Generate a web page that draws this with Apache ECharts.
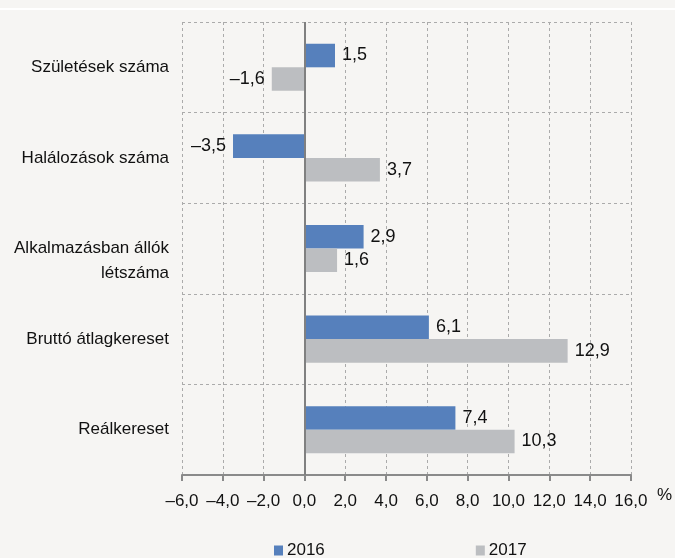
<!DOCTYPE html>
<html>
<head>
<meta charset="utf-8">
<script src="https://cdn.jsdelivr.net/npm/echarts@6/dist/echarts.min.js"></script>
<style>
  html, body { margin: 0; padding: 0; background: #f6f5f3; }
  #main { width: 675px; height: 558px; }
</style>
</head>
<body>
<div id="main"></div>
<script>
var categories = ['Születések száma', 'Halálozások száma', 'Alkalmazásban állók\nlétszáma', 'Bruttó átlagkereset', 'Reálkereset'];
var values2016 = [1.5, -3.5, 2.9, 6.1, 7.4];
var values2017 = [-1.6, 3.7, 1.6, 12.9, 10.3];
var seriesNames = ['2016', '2017'];

// magyar számformátum: tizedesvessző, nagykötőjel a mínuszjel helyett
function huNum(v) {
  return v.toFixed(1).replace('.', ',').replace('-', '–');
}

function barData(vals) {
  return vals.map(function (v) {
    return { value: v, label: { position: v < 0 ? 'left' : 'right' } };
  });
}

var myChart = echarts.init(document.getElementById('main'));

var labelStyle = {
  show: true,
  distance: 7,
  fontFamily: 'Liberation Sans',
  fontSize: 18,
  color: '#111',
  formatter: function (p) { return huNum(p.value); }
};

var option = {
  backgroundColor: '#f6f5f3',
  animation: false,
  textStyle: { fontFamily: 'Liberation Sans' },
  graphic: [{
    type: 'rect',
    shape: { x: 0, y: 8, width: 675, height: 2 },
    style: { fill: '#ffffff' }
  }],
  legend: {
    left: 269,
    top: 537,
    itemWidth: 9,
    itemHeight: 10,
    itemGap: 151,
    icon: 'rect',
    textStyle: { fontSize: 17, color: '#111', padding: [0, 0, 0, -1] },
    data: seriesNames
  },
  grid: { left: 182, right: 42, top: 22, bottom: 83 },
  xAxis: {
    type: 'value',
    min: -6,
    max: 16,
    interval: 2,
    name: '%',
    nameLocation: 'end',
    nameGap: 26,
    nameTextStyle: { fontSize: 17, color: '#111', verticalAlign: 'top', padding: [12, 0, 0, 0] },
    axisLine: { show: true, onZero: false, lineStyle: { color: '#8a8a8a', width: 2 } },
    axisTick: { show: true, length: 6, lineStyle: { color: '#8a8a8a', width: 2 } },
    axisLabel: {
      fontSize: 17,
      color: '#111',
      margin: 18,
      formatter: function (v) { return huNum(v); }
    },
    splitLine: { show: true, lineStyle: { color: '#ababab', type: [3, 3], width: 1 } }
  },
  yAxis: {
    type: 'category',
    inverse: true,
    data: categories,
    axisLine: { show: false },
    axisTick: { show: false },
    axisLabel: {
      fontSize: 17,
      color: '#111',
      margin: 13,
      lineHeight: 25,
      align: 'right',
      padding: [5, 0, 0, 0],
      // kétsoros feliratnál az első sor kerüljön a kategória közepére
      formatter: function (v) { return v.indexOf('\n') >= 0 ? '\n' + v : v; }
    },
    splitLine: { show: true, lineStyle: { color: '#ababab', type: [3, 3], width: 1 } }
  },
  series: [
    {
      name: seriesNames[0],
      type: 'bar',
      barGap: '0%',
      barCategoryGap: '48%',
      itemStyle: { color: '#5680bc' },
      label: labelStyle,
      data: barData(values2016),
      markLine: {
        silent: true,
        symbol: 'none',
        label: { show: false },
        lineStyle: { color: '#808080', width: 2, type: 'solid' },
        data: [{ xAxis: 0 }]
      }
    },
    {
      name: seriesNames[1],
      type: 'bar',
      itemStyle: { color: '#bcbec1' },
      label: labelStyle,
      data: barData(values2017)
    }
  ]
};

myChart.setOption(option);
</script>
</body>
</html>
